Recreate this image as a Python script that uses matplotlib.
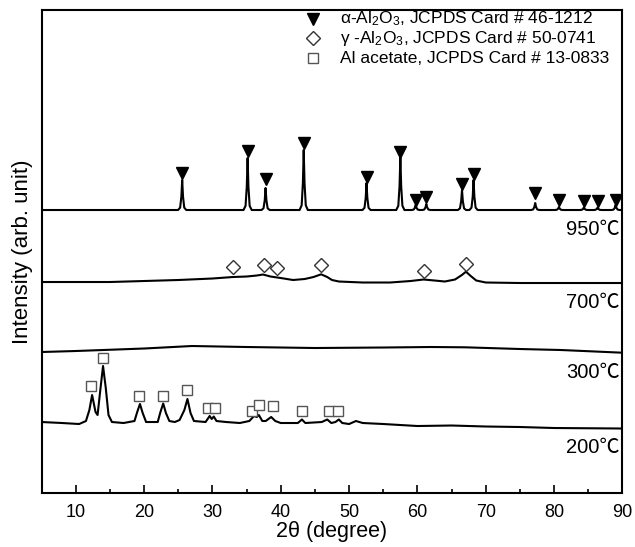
import matplotlib
matplotlib.use('Agg')
import matplotlib.pyplot as plt

plt.rcParams['font.family'] = ['Liberation Sans', 'Noto Sans CJK SC', 'DejaVu Sans']
plt.rcParams['mathtext.fontset'] = 'custom'
plt.rcParams['mathtext.rm'] = 'Liberation Sans'
plt.rcParams['mathtext.it'] = 'Liberation Sans:italic'

# --- 950 C : alpha-Al2O3 (sharp peaks on a flat baseline) ---
base_950 = 274
peaks_950 = [25.58, 35.15, 37.78, 43.36, 52.55, 57.50, 59.74, 61.30,
             66.52, 68.21, 77.23, 80.70, 84.35, 86.36, 88.99]
tops_950 = [304, 326, 296, 334, 301, 327, 279, 280,
            294, 304, 281, 277, 276.5, 276.5, 279]
marks_950 = [311, 333, 305, 341, 307, 332, 284, 287,
             300, 310, 291, 284, 283, 283, 284]

# --- 700 C : gamma-Al2O3 (broad humps) ---
x_700 = [5, 10, 15, 20, 25, 30, 33, 35, 36.5, 37.4, 38.5, 40, 41.8, 43.5, 44.8,
         45.9, 46.8, 47.5, 48.5, 52, 56, 59, 60.9, 62.5, 64, 65.5, 66.5, 67.1,
         67.8, 68.6, 70, 75, 80, 85, 90]
y_700 = [202, 202, 202, 203, 204, 205.5, 207, 207.5, 208.5, 209.5, 207.5, 206,
         204, 205, 207, 209.7, 207, 204, 202.5, 201.5, 201.5, 203, 204.5, 203.5,
         202.5, 204.5, 209, 212.3, 208, 203.5, 201.5, 201, 201, 201, 201]
marks_700_x = [33.0, 37.5, 39.5, 45.9, 61.0, 67.1]
marks_700_y = [217, 219, 216.5, 219.5, 213.5, 220]

# --- 300 C : amorphous ---
x_300 = [5, 10, 20, 27, 35, 45, 55, 62, 67, 75, 81, 90]
y_300 = [132, 133, 135.5, 138, 137, 136, 136.5, 137, 136.7, 135, 134, 131.3]

# --- 200 C : Al acetate ---
x_200 = [5, 8, 10.5, 11.5, 12.0, 12.4, 12.9, 13.2, 13.6, 14.0, 14.4, 14.8, 15.3,
         17, 18.6, 19.0, 19.4, 19.8, 20.3, 22.0, 22.4, 22.8, 23.2, 23.7, 24.5,
         25.2, 25.9, 26.35, 26.8, 27.3, 29.0, 29.6, 29.9, 30.2, 30.6, 32, 34,
         35.4, 36.1, 36.5, 36.8, 37.3, 37.8, 38.6, 39.2, 40, 42.5, 43.1, 43.6,
         46, 46.8, 47.4, 48.0, 48.5, 49.0, 50, 51, 52, 55, 60, 65, 70, 75, 80, 90]
y_200 = [62, 61, 60, 63, 74, 89, 72, 69, 94, 118, 96, 69, 62,
         61, 63, 72, 80, 71, 62, 62, 72, 80.5, 71, 63, 62,
         64, 74, 85, 71, 63, 62, 68, 65, 67.5, 63, 62, 61,
         63, 68, 67, 69, 63, 63, 67, 63, 61, 61, 64.5, 61,
         62, 64.5, 61, 62, 64.5, 61, 60, 63, 61, 60, 58, 58.5, 57.5, 57, 56, 55.5]
marks_200_x = [12.3, 14.0, 19.3, 22.7, 26.3, 29.4, 30.4, 35.8, 36.75, 38.9,
               43.1, 47.0, 48.4]
marks_200_y = [98, 125.7, 88.3, 88.3, 94, 75.7, 75.7, 73.3, 79, 78,
               73.3, 72.7, 73.3]

temps = ['950\u2103', '700\u2103', '300\u2103', '200\u2103']
temp_y = [255, 182, 112, 37]

legend_labels = [r'α-Al$_2$O$_3$, JCPDS Card # 46-1212',
                 r'γ -Al$_2$O$_3$, JCPDS Card # 50-0741',
                 'Al acetate, JCPDS Card # 13-0833']

# build the 950 trace as a polyline through each peak
x_950, y_950 = [5], [base_950]
for p, t in zip(peaks_950, tops_950):
    h = t - base_950
    x_950 += [p - 0.6, p - 0.3, p - 0.12, p, p + 0.12, p + 0.3, p + 0.6]
    y_950 += [base_950, base_950 + 0.08 * h, base_950 + 0.45 * h, t,
              base_950 + 0.45 * h, base_950 + 0.08 * h, base_950]
x_950.append(90)
y_950.append(base_950)

fig = plt.figure(figsize=(6.35, 5.47), dpi=100)
ax = fig.add_axes([0.0654, 0.0987, 0.9149, 0.8830])

lw = 1.5
for xs, ys in [(x_950, y_950), (x_700, y_700), (x_300, y_300), (x_200, y_200)]:
    ax.plot(xs, ys, color='black', lw=lw, solid_joinstyle='round')

ax.plot(peaks_950, marks_950, 'v', color='black', ms=8, ls='none')
ax.plot(marks_700_x, marks_700_y, 'D', mfc='white', mec='#333333', mew=1.0,
        ms=7.5, ls='none')
ax.plot(marks_200_x, marks_200_y, 's', mfc='white', mec='#555555', mew=1.0,
        ms=7.5, ls='none')

for t, y in zip(temps, temp_y):
    ax.text(89.6, y, t, ha='right', va='center', fontsize=14.5)

# legend drawn by hand
leg_y = [465, 446, 426]
ax.plot([44.7], [leg_y[0]], 'v', color='black', ms=8.5)
ax.plot([44.7], [leg_y[1]], 'D', mfc='white', mec='#333333', mew=1.0, ms=7.5)
ax.plot([44.7], [leg_y[2]], 's', mfc='white', mec='#555555', mew=1.0, ms=7)
for lab, y in zip(legend_labels, leg_y):
    ax.text(48.6, y, lab, ha='left', va='center', fontsize=12.5)

ax.set_xlim(5, 90)
ax.set_ylim(-9, 474)
ax.set_xticks(range(10, 91, 10))
ax.set_xticks(range(15, 90, 10), minor=True)
ax.set_yticks([])
ax.tick_params(axis='x', which='major', direction='in', length=6, width=1.2,
               labelsize=13, pad=8)
ax.tick_params(axis='x', which='minor', direction='in', length=3, width=1.2)
for s in ax.spines.values():
    s.set_linewidth(1.5)

ax.set_xlabel('2θ (degree)', fontsize=15.5, labelpad=0)
ax.set_ylabel('Intensity (arb. unit)', fontsize=16, labelpad=6)

fig.savefig('out.png', dpi=100)
